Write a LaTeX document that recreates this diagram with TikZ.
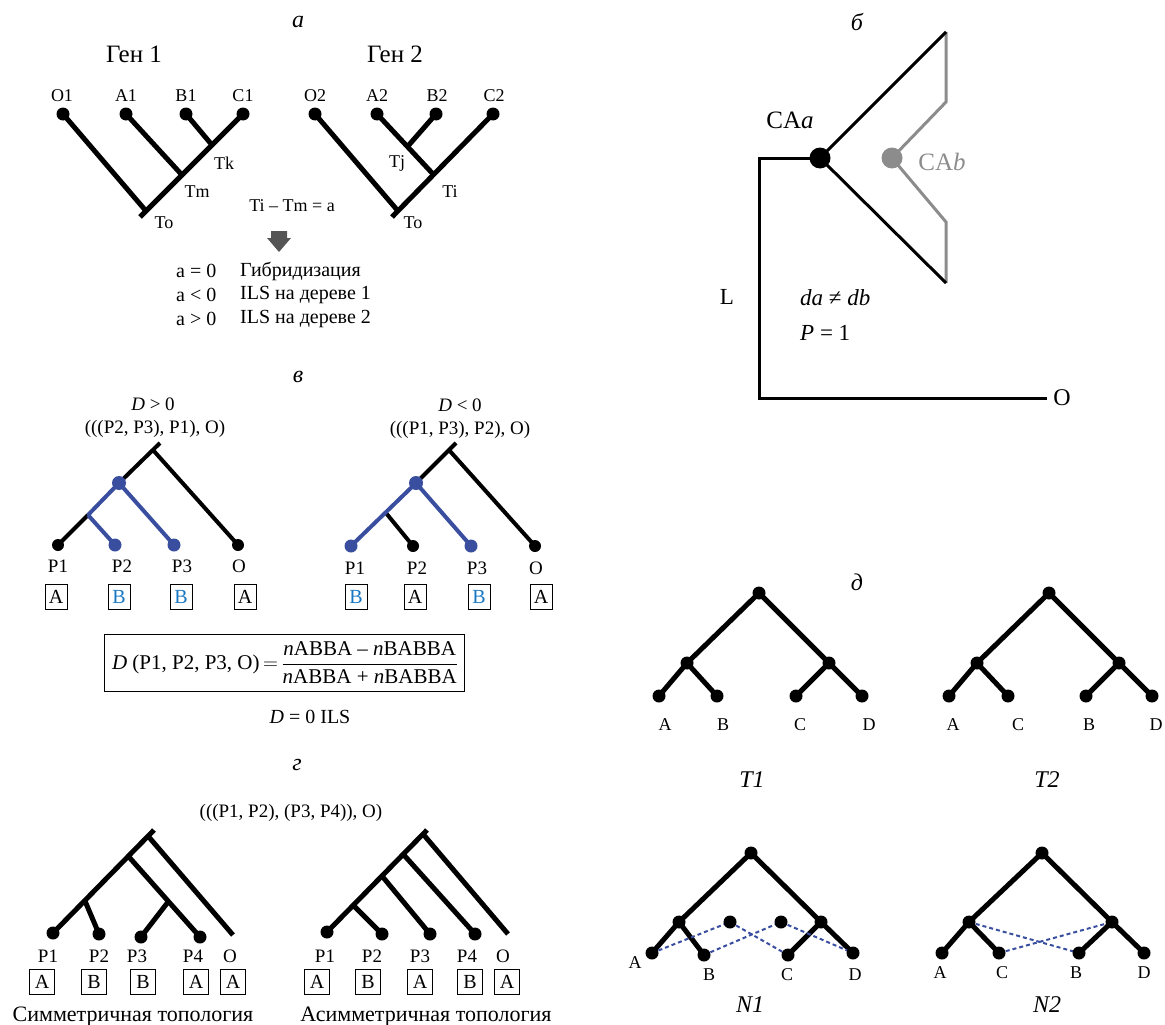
\documentclass[tikz,border=0pt]{standalone}
\usepackage{amsmath}
\usepackage{fontspec}
\setmainfont{Liberation Serif}
\usetikzlibrary{backgrounds}
\definecolor{lineblue}{RGB}{58,78,160}
\definecolor{textblue}{RGB}{25,120,195}
\definecolor{grayb}{RGB}{140,140,140}
\definecolor{arrowgray}{RGB}{85,85,85}
\newcommand{\fsz}[1]{\fontsize{#1}{#1}\selectfont}
\begin{document}
\begin{tikzpicture}[x=1pt,y=-1pt,
  dot/.style={circle,fill=black,inner sep=0pt,minimum size=13pt},
  bdot/.style={dot,fill=lineblue},
  br/.style={line width=5pt},
  brm/.style={line width=4pt},
  thin3/.style={line width=3pt},
  lbl/.style={inner sep=0pt,font=\fsz{18}},
  ttl/.style={inner sep=0pt,font=\fsz{24}\itshape},
  cbox/.style={draw,line width=0.9pt,minimum width=22pt,minimum height=25pt,inner sep=0pt,font=\fsz{20}},
  gbox/.style={cbox,minimum width=25pt},
  dsh/.style={lineblue,line width=2pt,dash pattern=on 4pt off 3pt}]
\useasboundingbox (0,0) rectangle (1165,1025);

% ================= panel a =================
\node[ttl] (ta) at (298,22) {а};
\node[inner sep=0pt,font=\fsz{25}] (gen1) at (134,54) {Ген 1};
\node[inner sep=0pt,font=\fsz{25}] (gen2) at (395,54) {Ген 2};
% tree 1
\node[dot] (o1) at (63,114) {};
\node[dot] (a1) at (126,114) {};
\node[dot] (b1) at (186,114) {};
\node[dot] (c1) at (243,114) {};
\node[lbl] (lo1) at (62,96) {O1};
\node[lbl] (la1) at (126,96) {A1};
\node[lbl] (lb1) at (186,96) {B1};
\node[lbl] (lc1) at (243,96) {C1};
\coordinate (tk) at (212,145);
\coordinate (tm) at (182,175);
\coordinate (r1) at (146,211);
\coordinate (s1) at (140,217);
\begin{pgfonlayer}{background}
\draw[br] (c1.center) -- (s1);
\draw[br] (o1.center) -- (r1);
\draw[br] (a1.center) -- (tm);
\draw[br] (b1.center) -- (tk);
\end{pgfonlayer}
\node[lbl] (ltk) at (224,163) {Tk};
\node[lbl] (ltm) at (197,192) {Tm};
\node[lbl] (lto1) at (164,223) {To};
% tree 2
\node[dot] (o2) at (315,114) {};
\node[dot] (a2) at (377,114) {};
\node[dot] (b2) at (436,114) {};
\node[dot] (c2) at (493,114) {};
\node[lbl] (lo2) at (315,96) {O2};
\node[lbl] (la2) at (377,96) {A2};
\node[lbl] (lb2) at (437,96) {B2};
\node[lbl] (lc2) at (494,96) {C2};
\coordinate (ti) at (433,174);
\coordinate (tj) at (408,146);
\coordinate (r2) at (398,211);
\coordinate (s2) at (392,217);
\begin{pgfonlayer}{background}
\draw[br] (c2.center) -- (s2);
\draw[br] (o2.center) -- (r2);
\draw[br] (a2.center) -- (ti);
\draw[br] (b2.center) -- (tj);
\end{pgfonlayer}
\node[lbl] (ltj) at (397,163) {Tj};
\node[lbl] (lti) at (450,192) {Ti};
\node[lbl] (lto2) at (413,223) {To};
\node[lbl] (eqa) at (292,206) {Ti – Tm = a};
\fill[arrowgray] (271,231) -- (287,231) -- (287,238) -- (291,238) -- (279,252) -- (267,238) -- (271,238) -- cycle;
\node[anchor=west,inner sep=0pt,font=\fsz{20}] (ca1) at (176,271) {a = 0};
\node[anchor=west,inner sep=0pt,font=\fsz{20}] (cb1) at (240,271) {Гибридизация};
\node[anchor=west,inner sep=0pt,font=\fsz{20}] (ca2) at (176,295) {a < 0};
\node[anchor=west,inner sep=0pt,font=\fsz{20}] (cb2) at (240,295) {ILS на дереве 1};
\node[anchor=west,inner sep=0pt,font=\fsz{20}] (ca3) at (176,319) {a > 0};
\node[anchor=west,inner sep=0pt,font=\fsz{20}] (cb3) at (240,319) {ILS на дереве 2};

% ================= panel b =================
\node[ttl] (tb) at (857,22) {б};
\node[circle,fill=black,minimum size=21pt,inner sep=0pt] (caa) at (820,158) {};
\node[circle,fill=grayb,minimum size=21pt,inner sep=0pt] (cab) at (892,158) {};
\coordinate (bc) at (759,158);
\coordinate (bl) at (759,398);
\coordinate (bo) at (1047,398);
\coordinate (btop) at (946,32);
\coordinate (bbot) at (946,283);
\coordinate (g1) at (946,102);
\coordinate (g2) at (946,222);
\begin{pgfonlayer}{background}
\draw[thin3,grayb] (btop) -- (g1) -- (cab.center) -- (g2) -- (bbot);
\draw[thin3] (caa.center) -- (bc) -- (bl) -- (bo);
\draw[thin3] (btop) -- (caa.center) -- (bbot);
\end{pgfonlayer}
\node[inner sep=0pt,font=\fsz{25}] (lcaa) at (790,120) {CA\textit{a}};
\node[inner sep=0pt,font=\fsz{25},text=grayb] (lcab) at (942,162) {CA\textit{b}};
\node[inner sep=0pt,font=\fsz{23}] (lL) at (727,297) {L};
\node[inner sep=0pt,font=\fsz{24}] (lO) at (1062,398) {O};
\node[anchor=west,inner sep=0pt,font=\fsz{23}] (dadb) at (800,298) {\textit{da} ≠ \textit{db}};
\node[anchor=west,inner sep=0pt,font=\fsz{23}] (p1) at (800,333) {\textit{P} = 1};

% ================= panel v =================
\node[ttl] (tv) at (298,377) {в};
\node[inner sep=0pt,font=\fsz{19}] (dg) at (153,404) {\textit{D} > 0};
\node[inner sep=0pt,font=\fsz{19}] (nw1) at (155,429) {(((P2, P3), P1), O)};
\node[inner sep=0pt,font=\fsz{19}] (dl) at (460,405) {\textit{D} < 0};
\node[inner sep=0pt,font=\fsz{19}] (nw2) at (460,430) {(((P1, P3), P2), O)};
% left tree
\node[dot,minimum size=12pt] (vp1) at (58,545) {};
\node[bdot,minimum size=13pt] (vp2) at (115,545) {};
\node[bdot,minimum size=13pt] (vp3) at (174,545) {};
\node[dot,minimum size=12pt] (vo) at (238,545) {};
\node[bdot,minimum size=14pt] (vbn) at (119,483) {};
\coordinate (vj) at (88,515);
\coordinate (vr) at (153,450);
\coordinate (vs) at (160,443);
\begin{pgfonlayer}{background}
\draw[brm] (vp1.center) -- (vj);
\draw[brm] (vbn.center) -- (vs);
\draw[brm] (vo.center) -- (vr);
\draw[brm,lineblue] (vj) -- (vbn.center) -- (vp3.center);
\draw[brm,lineblue] (vj) -- (vp2.center);
\end{pgfonlayer}
\node[lbl,font=\fsz{19}] (lvp1) at (58,566) {P1};
\node[lbl,font=\fsz{19}] (lvp2) at (122,566) {P2};
\node[lbl,font=\fsz{19}] (lvp3) at (182,566) {P3};
\node[lbl,font=\fsz{19}] (lvo) at (239,566) {O};
\node[cbox] (vb1) at (56,597) {A};
\node[cbox,text=textblue] (vb2) at (119,597) {B};
\node[cbox,text=textblue] (vb3) at (181,597) {B};
\node[cbox] (vb4) at (245,597) {A};
% right tree
\node[bdot,minimum size=13pt] (wp1) at (351,546) {};
\node[dot,minimum size=12pt] (wp2) at (413,546) {};
\node[bdot,minimum size=13pt] (wp3) at (471,546) {};
\node[dot,minimum size=12pt] (wo) at (535,546) {};
\node[bdot,minimum size=14pt] (wbn) at (416,483) {};
\coordinate (wj) at (386,513);
\coordinate (wr) at (449,450);
\coordinate (ws) at (456,443);
\begin{pgfonlayer}{background}
\draw[brm] (wj) -- (wp2.center);
\draw[brm] (wbn.center) -- (ws);
\draw[brm] (wo.center) -- (wr);
\draw[brm,lineblue] (wp1.center) -- (wbn.center) -- (wp3.center);
\end{pgfonlayer}
\node[lbl,font=\fsz{19}] (lwp1) at (355,568) {P1};
\node[lbl,font=\fsz{19}] (lwp2) at (417,568) {P2};
\node[lbl,font=\fsz{19}] (lwp3) at (477,568) {P3};
\node[lbl,font=\fsz{19}] (lwo) at (536,568) {O};
\node[cbox,text=textblue] (wb1) at (356,597) {B};
\node[cbox] (wb2) at (415,597) {A};
\node[cbox,text=textblue] (wb3) at (479,597) {B};
\node[cbox] (wb4) at (541,597) {A};
% formula
\draw[line width=0.9pt] (104,634) rectangle (464,691);
\node[inner sep=0pt,font=\fsz{21}] (fml) at (285,662.5)
  {$\text{\textit{D} (P1, P2, P3, O)}\mkern-2mu=\mkern-2mu\dfrac{\text{\textit{n}ABBA – \textit{n}BABBA}}{\text{\textit{n}ABBA + \textit{n}BABBA}}$};
\node[inner sep=0pt,font=\fsz{20}] (d0) at (310,717) {\textit{D} = 0 ILS};

% ================= panel g =================
\node[ttl] (tg) at (297,765) {г};
\node[inner sep=0pt,font=\fsz{19}] (nwg) at (291,813) {(((P1, P2), (P3, P4)), O)};
% left tree
\node[dot] (gp1) at (53,933) {};
\node[dot] (gp2) at (99,934) {};
\node[dot] (gp3) at (141,937) {};
\node[dot] (gp4) at (200,937) {};
\coordinate (go) at (233,935);
\coordinate (gs) at (154,830);
\coordinate (gn1) at (85,901);
\coordinate (gn2) at (129,857);
\coordinate (gn3) at (168,902);
\coordinate (goj) at (148,836);
\begin{pgfonlayer}{background}
\draw[br] (gp1.center) -- (gs);
\draw[br] (gn1) -- (gp2.center);
\draw[br] (gn2) -- (gp4.center);
\draw[br] (gn3) -- (gp3.center);
\draw[br] (go) -- (goj);
\end{pgfonlayer}
\node[lbl,font=\fsz{19}] (lgp1) at (48,956) {P1};
\node[lbl,font=\fsz{19}] (lgp2) at (99,956) {P2};
\node[lbl,font=\fsz{19}] (lgp3) at (137,956) {P3};
\node[lbl,font=\fsz{19}] (lgp4) at (193,956) {P4};
\node[lbl,font=\fsz{19}] (lgo) at (230,956) {O};
\node[gbox] (gb1) at (42,982) {A};
\node[gbox] (gb2) at (94,982) {B};
\node[gbox] (gb3) at (143,982) {B};
\node[gbox] (gb4) at (196,982) {A};
\node[gbox] (gb5) at (233,982) {A};
\node[inner sep=0pt,font=\fsz{22}] (capg1) at (133,1017) {Симметричная топология};
% right tree
\node[dot] (hp1) at (327,932) {};
\node[dot] (hp2) at (382,934) {};
\node[dot] (hp3) at (430,934) {};
\node[dot] (hp4) at (475,934) {};
\coordinate (ho) at (508,934);
\coordinate (hs) at (427,830);
\coordinate (hm1) at (353,905);
\coordinate (hm2) at (382,876);
\coordinate (hm3) at (403,854);
\coordinate (hm4) at (423,834);
\begin{pgfonlayer}{background}
\draw[br] (hp1.center) -- (hs);
\draw[br] (hm1) -- (hp2.center);
\draw[br] (hm2) -- (hp3.center);
\draw[br] (hm3) -- (hp4.center);
\draw[br] (hm4) -- (ho);
\end{pgfonlayer}
\node[lbl,font=\fsz{19}] (lhp1) at (325,956) {P1};
\node[lbl,font=\fsz{19}] (lhp2) at (372,956) {P2};
\node[lbl,font=\fsz{19}] (lhp3) at (420,956) {P3};
\node[lbl,font=\fsz{19}] (lhp4) at (467,956) {P4};
\node[lbl,font=\fsz{19}] (lho) at (503,956) {O};
\node[gbox] (hb1) at (317,982) {A};
\node[gbox] (hb2) at (368,982) {B};
\node[gbox] (hb3) at (420,982) {A};
\node[gbox] (hb4) at (470,982) {B};
\node[gbox] (hb5) at (507,982) {A};
\node[inner sep=0pt,font=\fsz{22}] (capg2) at (426,1017) {Асимметричная топология};

% ================= panel d =================
\node[ttl] (td) at (857,582) {д};
% T1
\node[dot] (t1r) at (759,593) {};
\node[dot] (t1l) at (687,663) {};
\node[dot] (t1rr) at (829,663) {};
\node[dot] (t1a) at (659,696) {};
\node[dot] (t1b) at (717,696) {};
\node[dot] (t1c) at (796,696) {};
\node[dot] (t1d) at (862,696) {};
\begin{pgfonlayer}{background}
\draw[br] (t1a.center) -- (t1l.center) -- (t1r.center) -- (t1rr.center) -- (t1d.center);
\draw[br] (t1l.center) -- (t1b.center);
\draw[br] (t1rr.center) -- (t1c.center);
\end{pgfonlayer}
\node[lbl] (lt1a) at (665,725) {A};
\node[lbl] (lt1b) at (723,725) {B};
\node[lbl] (lt1c) at (800,725) {C};
\node[lbl] (lt1d) at (869,725) {D};
\node[ttl] (nt1) at (752,780) {T1};
% T2
\node[dot] (t2r) at (1049,593) {};
\node[dot] (t2l) at (977,663) {};
\node[dot] (t2rr) at (1119,663) {};
\node[dot] (t2a) at (949,696) {};
\node[dot] (t2c) at (1008,696) {};
\node[dot] (t2b) at (1086,696) {};
\node[dot] (t2d) at (1152,696) {};
\begin{pgfonlayer}{background}
\draw[br] (t2a.center) -- (t2l.center) -- (t2r.center) -- (t2rr.center) -- (t2d.center);
\draw[br] (t2l.center) -- (t2c.center);
\draw[br] (t2rr.center) -- (t2b.center);
\end{pgfonlayer}
\node[lbl] (lt2a) at (953,725) {A};
\node[lbl] (lt2c) at (1018,725) {C};
\node[lbl] (lt2b) at (1089,725) {B};
\node[lbl] (lt2d) at (1156,725) {D};
\node[ttl] (nt2) at (1047,780) {T2};
% N1
\node[dot] (n1r) at (751,853) {};
\node[dot] (n1l) at (679,922) {};
\node[dot] (n1rr) at (821,922) {};
\node[dot] (n1a) at (652,953) {};
\node[dot] (n1b) at (704,955) {};
\node[dot] (n1c) at (788,955) {};
\node[dot] (n1d) at (853,953) {};
\node[dot] (n1h1) at (730,922) {};
\node[dot] (n1h2) at (781,922) {};
\begin{pgfonlayer}{background}
\draw[br] (n1a.center) -- (n1l.center) -- (n1r.center) -- (n1rr.center) -- (n1d.center);
\draw[br] (n1l.center) -- (n1b.center);
\draw[br] (n1rr.center) -- (n1c.center);
\draw[dsh] (n1a.center) -- (n1h1.center) -- (n1c.center);
\draw[dsh] (n1b.center) -- (n1h2.center) -- (n1d.center);
\end{pgfonlayer}
\node[lbl] (ln1a) at (635,963) {A};
\node[lbl] (ln1b) at (709,975) {B};
\node[lbl] (ln1c) at (787,975) {C};
\node[lbl] (ln1d) at (855,975) {D};
\node[ttl] (nn1) at (750,1005) {N1};
% N2
\node[dot] (n2r) at (1042,853) {};
\node[dot] (n2l) at (969,922) {};
\node[dot] (n2rr) at (1112,922) {};
\node[dot] (n2a) at (942,953) {};
\node[dot] (n2c) at (999,953) {};
\node[dot] (n2b) at (1079,953) {};
\node[dot] (n2d) at (1144,953) {};
\begin{pgfonlayer}{background}
\draw[br] (n2a.center) -- (n2l.center) -- (n2r.center) -- (n2rr.center) -- (n2d.center);
\draw[br] (n2l.center) -- (n2c.center);
\draw[br] (n2rr.center) -- (n2b.center);
\draw[dsh] (n2l.center) -- (n2b.center);
\draw[dsh] (n2c.center) -- (n2rr.center);
\end{pgfonlayer}
\node[lbl] (ln2a) at (940,973) {A};
\node[lbl] (ln2c) at (1002,973) {C};
\node[lbl] (ln2b) at (1076,973) {B};
\node[lbl] (ln2d) at (1144,973) {D};
\node[ttl] (nn2) at (1047,1005) {N2};
\end{tikzpicture}
\end{document}
